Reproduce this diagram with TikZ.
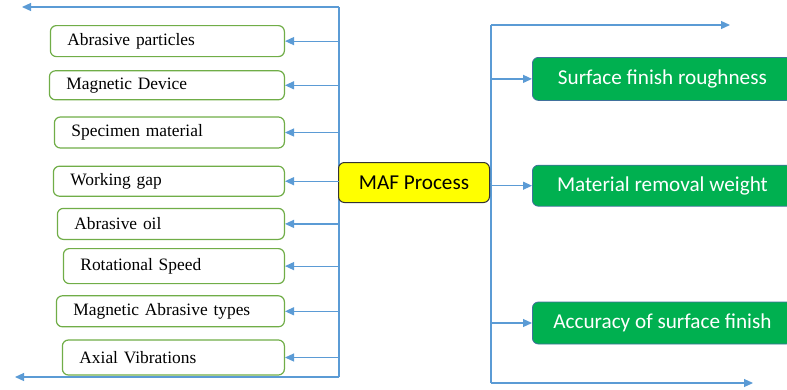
\documentclass[tikz,border=0pt]{standalone}
\usepackage{fontspec}
\setmainfont{Liberation Serif}
\newfontfamily\calibrifont{Carlito}
\usetikzlibrary{arrows.meta,positioning}
\definecolor{lineColor}{RGB}{91,155,213}
\definecolor{factorColor}{RGB}{112,173,71}
\definecolor{respColor}{RGB}{0,176,80}
\definecolor{respBorder}{RGB}{65,113,156}
\definecolor{procColor}{RGB}{255,255,0}
\newcommand{\factorfont}{\fontsize{17.4}{19}\selectfont}
\newcommand{\respfont}{\calibrifont\fontsize{21.2}{24}\selectfont}

\begin{document}
\begin{tikzpicture}[x=1pt, y=-1pt,
        factor/.style={draw=factorColor, line width=1.2pt, rounded corners=6pt, fill=white, text width=#1, align=left, inner xsep=17pt, inner ysep=0pt, minimum height=31pt, font=\factorfont},
        proc/.style={draw=black!80, line width=1pt, rounded corners=6pt, fill=procColor, minimum width=151pt, minimum height=40pt, font=\respfont},
        response/.style={draw=respBorder, line width=0.8pt, rounded corners=6pt, fill=respColor, text=white, minimum width=260pt, minimum height=42pt, font=\respfont},
        arr/.style={-{Triangle[length=9pt,width=8pt]}, line width=1.2pt, lineColor},
        link/.style={line width=1.2pt, lineColor}
      ]
      \clip (0,0) rectangle (787,389);
      \coordinate (ltop) at (339,7);
      \coordinate (lbot) at (339,377);
      \coordinate (lend1) at (22,7);
      \coordinate (lend2) at (15,377);
      \coordinate (rtop) at (491,25);
      \coordinate (rbot) at (491,383);
      \coordinate (rend1) at (730,25);
      \coordinate (rend2) at (753,383);
      \draw[link] (ltop) -- (lbot);
      \draw[link] (rtop) -- (rbot);

      % input factors
      \node[factor=200pt, anchor=north east] (abr) at (285,25) {Abrasive particles};
      \node[factor=201pt, minimum height=29pt, below=13pt of abr.south east, anchor=north east] (mag) {Magnetic Device};
      \node[factor=196pt, below=16pt of mag.south east, anchor=north east] (spec) {Specimen material};
      \node[factor=197pt, minimum height=30pt, below=17pt of spec.south east, anchor=north east] (gap) {Working gap};
      \node[factor=193pt, below=11pt of gap.south east, anchor=north east] (oil) {Abrasive oil};
      \node[factor=187pt, minimum height=35pt, below=8pt of oil.south east, anchor=north east] (rot) {Rotational Speed};
      \node[factor=194pt, below=11pt of rot.south east, anchor=north east] (mat) {Magnetic Abrasive types};
      \node[factor=188pt, minimum height=35pt, below=12pt of mat.south east, anchor=north east] (vib) {Axial Vibrations};

      \node[proc, anchor=north west] (maf) at (338,162) {MAF Process};

      % responses
      \node[response, minimum height=43pt, anchor=north west] (rough) at (532,57) {Surface finish roughness};
      \node[response, minimum height=41pt, below=64pt of rough.south west, anchor=north west] (mrw) {Material removal weight};
      \node[response, below=95pt of mrw.south west, anchor=north west] (acc) {Accuracy of surface finish};

      \draw[arr] (ltop) -- (lend1);
      \draw[arr] (lbot) -- (lend2);
      \draw[arr] (abr.east -| ltop) -- (abr.east);
      \draw[arr] (mag.east -| ltop) -- (mag.east);
      \draw[arr] (spec.east -| ltop) -- (spec.east);
      \draw[arr] (gap.east -| ltop) -- (gap.east);
      \draw[arr] (oil.east -| ltop) -- (oil.east);
      \draw[arr] (rot.east -| ltop) -- (rot.east);
      \draw[arr] (mat.east -| ltop) -- (mat.east);
      \draw[arr] (vib.east -| ltop) -- (vib.east);

      \draw[link] (maf.east) -- (maf.east -| rtop);
      \draw[arr] (rtop) -- (rend1);
      \draw[arr] (rbot) -- (rend2);
      \draw[arr] (rough.west -| rtop) -- (rough.west);
      \draw[arr] (mrw.west -| rtop) -- (mrw.west);
      \draw[arr] (acc.west -| rtop) -- (acc.west);
    \end{tikzpicture}
\end{document}
